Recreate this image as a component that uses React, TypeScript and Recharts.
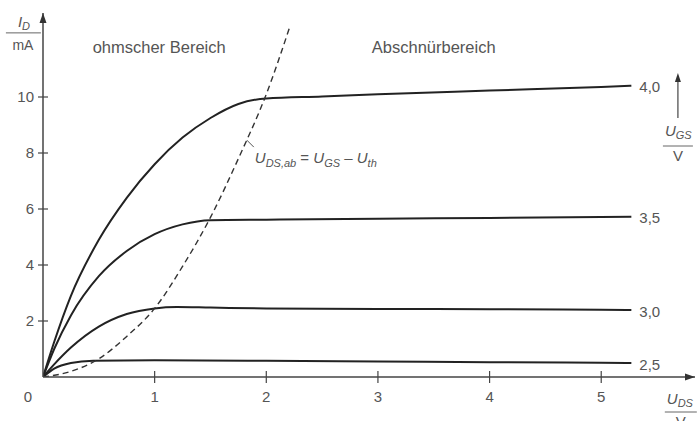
import {
  LineChart,
  Line,
  XAxis,
  YAxis,
  ReferenceDot,
} from "recharts";

// Kennlinien I_D(U_DS) fuer verschiedene U_GS
const uds40 = [0, 0.1, 0.25, 0.5, 0.75, 1.0, 1.25, 1.5, 1.75, 2.0, 2.5, 3, 4, 5, 5.27];
const id40 = [0, 1.25, 2.9, 4.9, 6.4, 7.6, 8.55, 9.25, 9.75, 9.95, 10.02, 10.1, 10.23, 10.36, 10.4];

const uds35 = [0, 0.1, 0.25, 0.5, 0.75, 1.0, 1.25, 1.5, 2, 3, 4, 5, 5.27];
const id35 = [0, 1.0, 2.2, 3.6, 4.5, 5.1, 5.45, 5.6, 5.62, 5.65, 5.68, 5.71, 5.72];

const uds30 = [0, 0.1, 0.25, 0.5, 0.75, 1.0, 1.2, 1.5, 2, 3, 4, 5, 5.27];
const id30 = [0, 0.45, 1.05, 1.8, 2.25, 2.45, 2.5, 2.48, 2.45, 2.43, 2.42, 2.4, 2.39];

const uds25 = [0, 0.1, 0.25, 0.45, 1, 2, 3, 4, 5, 5.27];
const id25 = [0, 0.3, 0.5, 0.58, 0.6, 0.58, 0.55, 0.53, 0.51, 0.5];

// Grenzkurve U_DS,ab
const udsAb = [0, 0.25, 0.5, 0.75, 1.0, 1.25, 1.5, 1.75, 2.0, 2.21];
const idAb = [0, 0.2, 0.65, 1.45, 2.45, 3.95, 5.7, 7.8, 10.1, 12.5];

const ugsLabels = ["4,0", "3,5", "3,0", "2,5"];
const xTicks = [0, 1, 2, 3, 4, 5];
const yTicks = [2, 4, 6, 8, 10];

const pts = (xs: number[], ys: number[]) => xs.map((x, i) => ({ x, y: ys[i] }));

const FONT = "'Liberation Sans', Arial, sans-serif";
const TXT = "#555";
const INK = "#222";

const XTick = (props: any) => {
  const { x, y, payload } = props;
  if (payload.value === 0) {
    return (
      <text x={x - 15} y={y + 25} textAnchor="middle" fontSize={15} fill={TXT} fontFamily={FONT}>
        0
      </text>
    );
  }
  return (
    <g>
      <line x1={x} x2={x} y1={y - 6} y2={y + 6} stroke="#444" strokeWidth={1.2} />
      <text x={x} y={y + 25} textAnchor="middle" fontSize={15} fill={TXT} fontFamily={FONT}>
        {payload.value}
      </text>
    </g>
  );
};

const YTick = (props: any) => {
  const { x, y, payload } = props;
  return (
    <g>
      <line x1={x - 5} x2={x + 5} y1={y} y2={y} stroke="#444" strokeWidth={1.2} />
      <text x={x - 9} y={y + 5} textAnchor="end" fontSize={15} fill={TXT} fontFamily={FONT}>
        {payload.value}
      </text>
    </g>
  );
};

function App() {
  const series = [
    { xs: uds40, ys: id40 },
    { xs: uds35, ys: id35 },
    { xs: uds30, ys: id30 },
    { xs: uds25, ys: id25 },
  ];

  return (
    <div style={{ position: "absolute", left: 0, top: 0 }}>
      <LineChart width={697} height={421} margin={{ top: 13, right: 2, bottom: 0, left: 0 }}>
        <XAxis
          type="number"
          dataKey="x"
          domain={[0, 5.84]}
          ticks={xTicks}
          allowDataOverflow
          height={44}
          tickSize={0}
          tickMargin={0}
          tickLine={false}
          axisLine={{ stroke: "#444", strokeWidth: 1.5 }}
          tick={<XTick />}
        />
        <YAxis
          type="number"
          dataKey="y"
          domain={[0, 13]}
          ticks={yTicks}
          allowDataOverflow
          width={43}
          tickSize={0}
          tickMargin={0}
          tickLine={false}
          axisLine={{ stroke: "#444", strokeWidth: 1.5 }}
          tick={<YTick />}
        />
        {series.map((s, i) => (
          <Line
            key={ugsLabels[i]}
            data={pts(s.xs, s.ys)}
            dataKey="y"
            type="monotone"
            stroke={INK}
            strokeWidth={2}
            dot={false}
            isAnimationActive={false}
          />
        ))}
        <Line
          data={pts(udsAb, idAb)}
          dataKey="y"
          type="monotone"
          stroke="#333"
          strokeWidth={1.4}
          strokeDasharray="6 4"
          dot={false}
          isAnimationActive={false}
        />

        {/* Achsenpfeile */}
        <ReferenceDot
          x={0}
          y={13}
          r={0}
          ifOverflow="visible"
          shape={(p: any) => (
            <polygon points={`${p.cx - 3.5},${p.cy + 10} ${p.cx + 3.5},${p.cy + 10} ${p.cx},${p.cy}`} fill="#333" />
          )}
        />
        <ReferenceDot
          x={5.84}
          y={0}
          r={0}
          ifOverflow="visible"
          shape={(p: any) => (
            <polygon points={`${p.cx - 10},${p.cy - 3.5} ${p.cx - 10},${p.cy + 3.5} ${p.cx},${p.cy}`} fill="#333" />
          )}
        />

        {/* U_GS-Beschriftung an den Kurvenenden */}
        {series.map((s, i) => (
          <ReferenceDot
            key={"lbl" + i}
            x={s.xs[s.xs.length - 1]}
            y={s.ys[s.ys.length - 1]}
            r={0}
            ifOverflow="visible"
            shape={(p: any) => (
              <text x={p.cx + 8} y={p.cy + 6.5} fontSize={15} fill={TXT} fontFamily={FONT}>
                {ugsLabels[i]}
              </text>
            )}
          />
        ))}

        {/* Bereiche */}
        <ReferenceDot
          x={0.445}
          y={11.57}
          r={0}
          ifOverflow="visible"
          shape={(p: any) => (
            <text x={p.cx} y={p.cy} fontSize={16.5} fill={TXT} fontFamily={FONT}>
              ohmscher Bereich
            </text>
          )}
        />
        <ReferenceDot
          x={2.945}
          y={11.57}
          r={0}
          ifOverflow="visible"
          shape={(p: any) => (
            <text x={p.cx} y={p.cy} fontSize={16.5} fill={TXT} fontFamily={FONT}>
              Abschnürbereich
            </text>
          )}
        />

        {/* Formel an der Grenzkurve */}
        <ReferenceDot
          x={1.897}
          y={7.64}
          r={0}
          ifOverflow="visible"
          shape={(p: any) => (
            <g>
              <line x1={p.cx - 8} y1={p.cy - 23} x2={p.cx - 1} y2={p.cy - 16} stroke="#555" strokeWidth={1} />
              <text x={p.cx} y={p.cy} fontSize={15} fill={TXT} fontFamily={FONT}>
                <tspan fontStyle="italic">U</tspan>
                <tspan fontStyle="italic" fontSize={11} dy={4}>DS,ab</tspan>
                <tspan dy={-4}> = </tspan>
                <tspan fontStyle="italic">U</tspan>
                <tspan fontStyle="italic" fontSize={11} dy={4}>GS</tspan>
                <tspan dy={-4}> – </tspan>
                <tspan fontStyle="italic">U</tspan>
                <tspan fontStyle="italic" fontSize={11} dy={4}>th</tspan>
              </text>
            </g>
          )}
        />

        {/* Achsenbeschriftungen */}
        <ReferenceDot
          x={-0.18}
          y={12.29}
          r={0}
          ifOverflow="visible"
          shape={(p: any) => (
            <g>
              <text x={p.cx - 5} y={p.cy - 6} fontSize={15} fill={TXT} fontFamily={FONT}>
                <tspan fontStyle="italic">I</tspan>
                <tspan fontStyle="italic" fontSize={11} dy={3}>D</tspan>
              </text>
              <line x1={p.cx - 17} x2={p.cx + 18} y1={p.cy} y2={p.cy} stroke="#666" strokeWidth={1} />
              <text x={p.cx} y={p.cy + 17} textAnchor="middle" fontSize={14} fill={TXT} fontFamily={FONT}>
                mA
              </text>
            </g>
          )}
        />
        <ReferenceDot
          x={5.687}
          y={8.25}
          r={0}
          ifOverflow="visible"
          shape={(p: any) => (
            <g>
              <line x1={p.cx} x2={p.cx} y1={p.cy - 28} y2={p.cy - 66} stroke="#444" strokeWidth={1.2} />
              <polygon points={`${p.cx - 3},${p.cy - 64} ${p.cx + 3},${p.cy - 64} ${p.cx},${p.cy - 73}`} fill="#333" />
              <text x={p.cx - 13} y={p.cy - 10} fontSize={15} fill={TXT} fontFamily={FONT}>
                <tspan fontStyle="italic">U</tspan>
                <tspan fontStyle="italic" fontSize={11} dy={3}>GS</tspan>
              </text>
              <line x1={p.cx - 15} x2={p.cx + 15} y1={p.cy} y2={p.cy} stroke="#666" strokeWidth={1} />
              <text x={p.cx} y={p.cy + 15} textAnchor="middle" fontSize={15} fill={TXT} fontFamily={FONT}>
                V
              </text>
            </g>
          )}
        />
        <ReferenceDot
          x={5.713}
          y={-1.25}
          r={0}
          ifOverflow="visible"
          shape={(p: any) => (
            <g>
              <text x={p.cx - 14} y={p.cy - 8} fontSize={15} fill={TXT} fontFamily={FONT}>
                <tspan fontStyle="italic">U</tspan>
                <tspan fontStyle="italic" fontSize={11} dy={3}>DS</tspan>
              </text>
              <line x1={p.cx - 16} x2={p.cx + 16} y1={p.cy} y2={p.cy} stroke="#666" strokeWidth={1} />
              <text x={p.cx} y={p.cy + 15} textAnchor="middle" fontSize={15} fill={TXT} fontFamily={FONT}>
                V
              </text>
            </g>
          )}
        />
      </LineChart>
    </div>
  );
}

export default App;
